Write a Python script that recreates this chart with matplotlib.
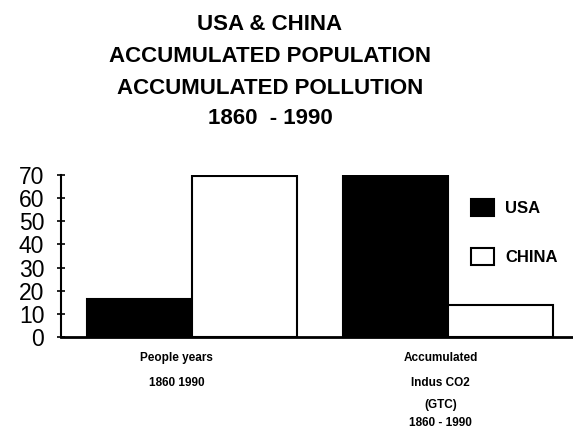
import matplotlib
matplotlib.use("Agg")
import matplotlib.pyplot as plt
import matplotlib.transforms as mtransforms
import numpy as np

plt.rcParams['font.family'] = ['Liberation Sans', 'DejaVu Sans']

# Data
groups = ["People years", "Accumulated CO2"]
usa = [16.5, 71]
china = [69.5, 14]
yticks = [0, 10, 20, 30, 40, 50, 60, 70]
group_labels = [
    ["People years", "1860 1990"],
    ["Accumulated", "Indus CO2", "(GTC)", "1860 - 1990"],
]
title_lines = ["USA & CHINA", "ACCUMULATED POPULATION",
               "ACCUMULATED POLLUTION", "1860  - 1990"]

W, H = 573, 430
fig = plt.figure(figsize=(W / 100, H / 100), dpi=100)
fig.patch.set_facecolor("white")

ax = fig.add_axes([61 / W, 1 - 337 / H, 1 - 61 / W, (337 - 175) / H])

x = np.arange(len(groups))
bw = 0.41
b1 = ax.bar(x - bw / 2, usa, bw, color="black", edgecolor="black",
            linewidth=1.5, label="USA", zorder=2)
b2 = ax.bar(x + bw / 2, china, bw, color="white", edgecolor="black",
            linewidth=1.5, label="CHINA", zorder=2)

ax.set_xlim(-0.512, 1.488)
ax.set_ylim(0, 70)
ax.set_yticks(yticks)
ax.set_yticklabels([str(v) for v in yticks], fontsize=16.5)
ax.set_xticks([])
ax.tick_params(axis="y", direction="inout", length=6, width=1.2, pad=9)
for s in ("top", "right"):
    ax.spines[s].set_visible(False)
ax.spines["left"].set_linewidth(1.5)
ax.spines["bottom"].set_linewidth(2)
ax.spines["left"].set_bounds(0, 70)

# Category captions below the axis
label_x = [-0.06, 0.97]
line_y = [358, 383, 405, 423]
trans = mtransforms.blended_transform_factory(ax.transData, fig.transFigure)
for lx, lines in zip(label_x, group_labels):
    for i, txt in enumerate(lines):
        ax.text(lx, 1 - line_y[i] / H, txt, transform=trans, ha="center",
                va="center", fontsize=8.5, fontweight="bold", clip_on=False)

# Title block
title_y = [25, 57, 88, 118]
for ty, txt in zip(title_y, title_lines):
    fig.text(270 / W, 1 - ty / H, txt, ha="center", va="center",
             fontsize=16, fontweight="bold")

leg = fig.legend(handles=[b1, b2], labels=["USA", "CHINA"],
                 loc="upper left", bbox_to_anchor=(471 / W, 1 - 199 / H),
                 frameon=False, fontsize=12, handlelength=1.35,
                 handleheight=1.2, handletextpad=0.7, labelspacing=1.88,
                 borderpad=0, borderaxespad=0)
for t in leg.get_texts():
    t.set_fontweight("bold")

fig.savefig("out.png", dpi=100, facecolor="white")
